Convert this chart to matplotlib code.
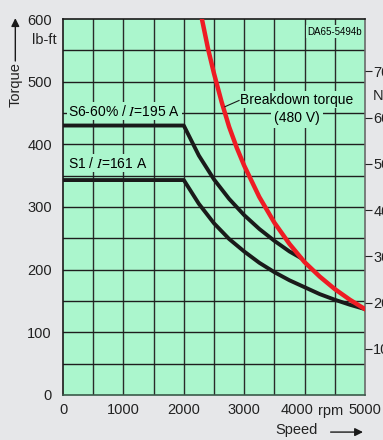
"""
Torque vs speed characteristic (lb-ft, secondary Nm axis)
"""
import numpy as np
import matplotlib.pyplot as plt
import matplotlib.transforms as mtransforms
from matplotlib.patches import FancyArrowPatch

plt.rcParams['font.family'] = ['Liberation Sans', 'DejaVu Sans']
plt.rcParams['mathtext.fontset'] = 'stix'

# --- data ---
s6_speed = [0, 2000, 2250, 2500, 2750, 3000, 3250, 3500, 3750, 3950]
s6_torque = [430, 430, 382, 344, 313, 287, 265, 246, 229, 218]

s1_speed = [0, 2000, 2250, 2500, 2750, 3000, 3250, 3500, 3750, 4000, 4250, 4500, 4750, 5000]
s1_torque = [343, 343, 305, 274, 249, 229, 211, 196, 183, 172, 161, 152, 144, 137]

bd_speed = [2300, 2400, 2500, 2625, 2750, 2875, 3000, 3250, 3500, 3750, 4000, 4250, 4500, 4750, 5000]
bd_torque = [600, 553, 513, 468, 428, 395, 366, 316, 275, 241, 212, 189, 169, 152, 137]

x_ticks = [0, 1000, 2000, 3000, 4000, 5000]
y_ticks = [0, 100, 200, 300, 400, 500, 600]
nm_ticks = [100, 200, 300, 400, 500, 600, 700]
LBFT_PER_NM = 1 / 1.3558

GREEN = '#abf6cd'
INK = '#222222'

fig = plt.figure(figsize=(3.83, 4.40), dpi=100, facecolor='#e6e7e9')
ax = fig.add_axes([0.1645, 0.1023, 0.7885, 0.8545])
ax.set_facecolor(GREEN)
ax.set_xlim(0, 5000)
ax.set_ylim(0, 600)

# grid every 500 rpm / 50 lb-ft
for gx in np.arange(500, 5000, 500):
    ax.axvline(gx, color='#2a2a2a', lw=1.0, zorder=1)
for gy in np.arange(50, 600, 50):
    ax.axhline(gy, color='#1e1e1e', lw=1.0, zorder=1)

ax.plot(s6_speed, s6_torque, color='#1a1a1a', lw=2.8, zorder=3, solid_capstyle='butt')
ax.plot(s1_speed, s1_torque, color='#1a1a1a', lw=2.8, zorder=3, solid_capstyle='butt')
ax.plot(bd_speed, bd_torque, color='#ee1c24', lw=3.2, zorder=4)

bg = dict(facecolor=GREEN, edgecolor='none', pad=1.0)
ax.text(90, 453, r'S6-60% / $\mathit{I}$=195 A', fontsize=10, va='center', ha='left',
        bbox=bg, zorder=2)
ax.text(90, 370, r'S1 / $\mathit{I}$=161 A', fontsize=10, va='center', ha='left',
        bbox=bg, zorder=2)
ax.text(3874, 471, 'Breakdown torque', fontsize=10, va='center', ha='center',
        bbox=bg, zorder=2)
ax.text(3874, 442, '(480 V)', fontsize=10, va='center', ha='center',
        bbox=dict(facecolor=GREEN, edgecolor='none', pad=2.0), zorder=2)
ax.plot([2680, 2915], [460, 470], color='#1a1a1a', lw=0.8, zorder=5)
ax.text(4950, 588, 'DA65-5494b', fontsize=7, va='top', ha='right', bbox=bg, zorder=2)

ax.set_xticks(x_ticks)
ax.set_xticklabels(['0', '1000', '2000', '3000', '4000', '5000'])
ax.set_yticks(y_ticks)
ax.tick_params(axis='both', length=0, labelsize=10.5, colors=INK)
ax.tick_params(axis='x', pad=6)
ax.tick_params(axis='y', pad=8)
# "4000" sits a little left to leave room for the unit
shift = mtransforms.ScaledTranslation(-8 / 100, 0, fig.dpi_scale_trans)
lab4000 = ax.get_xticklabels()[4]
lab4000.set_transform(lab4000.get_transform() + shift)
ax.text(4430, -25, 'rpm', fontsize=10.5, ha='center', va='center', color=INK)

for side in ['left', 'top']:
    ax.spines[side].set_color('#1a1a1a')
ax.spines['bottom'].set_color('#3a5a4a')
ax.spines['right'].set_color('#6a6a6a')
for sp in ax.spines.values():
    sp.set_linewidth(1.2)

# secondary Nm axis (labels run off the right edge, as in the original)
ax2 = ax.twinx()
ax2.set_ylim(0, 600 / LBFT_PER_NM)
ax2.set_yticks(nm_ticks)
ax2.tick_params(axis='y', length=5, width=0.8, labelsize=10.5, colors=INK, pad=1)
for sp in ax2.spines.values():
    sp.set_visible(False)
fig.text(0.972, 0.782, 'Nm', fontsize=10.5, ha='left', va='center', color=INK)

# left labels
fig.text(0.149, 0.908, 'lb-ft', fontsize=10.5, ha='right', va='center', color=INK)
fig.text(0.04, 0.807, 'Torque', fontsize=10.5, rotation=90, ha='center', va='center',
         color=INK)
fig.patches.append(FancyArrowPatch(
    (0.04, 0.855), (0.04, 0.965), transform=fig.transFigure, arrowstyle='-|>',
    mutation_scale=12, color='#1a1a1a', lw=1.0))

# bottom label
fig.text(0.775, 0.0227, 'Speed', fontsize=10.5, ha='center', va='center', color=INK)
fig.patches.append(FancyArrowPatch(
    (0.856, 0.018), (0.955, 0.018), transform=fig.transFigure, arrowstyle='-|>',
    mutation_scale=12, color='#1a1a1a', lw=1.0))

plt.savefig('out.png', dpi=100, facecolor=fig.get_facecolor())
